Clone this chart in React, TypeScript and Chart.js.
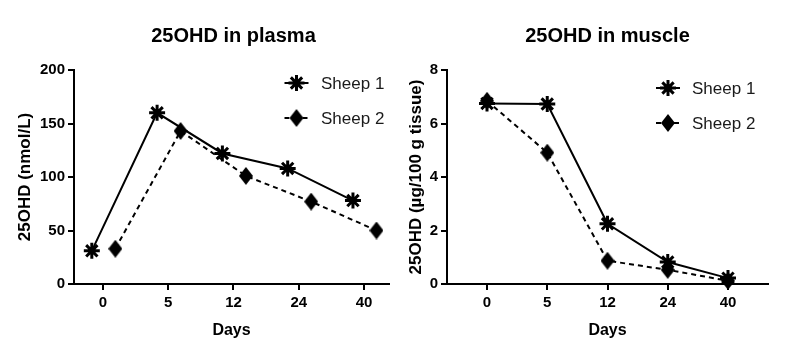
import React, { useEffect, useRef } from 'react';
import { Chart, registerables } from 'chart.js';

Chart.register(...registerables);

// ---------- data ----------
const days = ['0', '5', '12', '24', '40'];
const seriesNames = ['Sheep 1', 'Sheep 2'];

const plasmaSheep1 = [31, 160, 122, 108, 78];
const plasmaSheep2 = [33, 143, 101, 77, 50];
const plasmaYTicks = [0, 50, 100, 150, 200];

const muscleSheep1 = [6.75, 6.73, 2.25, 0.82, 0.22];
const muscleSheep2 = [6.85, 4.91, 0.87, 0.53, 0.12];
const muscleYTicks = [0, 2, 4, 6, 8];

// horizontal dodge of each series (in category units)
const plasmaDodge = [-0.17, 0.19];
const muscleDodge = [0, 0];

const FONT = "'Liberation Sans', Arial, sans-serif";

function makeDiamond(): HTMLCanvasElement {
  const c = document.createElement('canvas');
  c.width = 14;
  c.height = 18;
  const g = c.getContext('2d')!;
  g.fillStyle = '#000';
  g.beginPath();
  g.moveTo(7, 0);
  g.lineTo(14, 9);
  g.lineTo(7, 18);
  g.lineTo(0, 9);
  g.closePath();
  g.fill();
  return c;
}

function drawStar(ctx: CanvasRenderingContext2D, x: number, y: number, r: number) {
  ctx.save();
  ctx.strokeStyle = '#000';
  ctx.lineWidth = 3;
  ctx.setLineDash([]);
  ctx.beginPath();
  for (let k = 0; k < 4; k++) {
    const a = (k * Math.PI) / 4;
    ctx.moveTo(x - Math.cos(a) * r, y - Math.sin(a) * r);
    ctx.lineTo(x + Math.cos(a) * r, y + Math.sin(a) * r);
  }
  ctx.stroke();
  ctx.restore();
}

type PanelCfg = {
  left: number;
  width: number;
  title: string;
  titleX: number;
  yTitle: string;
  yTitlePad: number;
  s1: number[];
  s2: number[];
  dodge: number[];
  yTicks: number[];
  xMin: number;
  xMax: number;
  yAxisWidth: number;
  rightPad: number;
  legendX: number;
  legendY: number[];
  legendTextX: number;
};

function Panel({ cfg }: { cfg: PanelCfg }) {
  const ref = useRef<HTMLCanvasElement>(null);
  useEffect(() => {
    const diamond = makeDiamond();
    const overlay = {
      id: 'overlay',
      afterDraw(chart: any) {
        const ctx: CanvasRenderingContext2D = chart.ctx;
        ctx.save();
        // title
        ctx.fillStyle = '#000';
        ctx.font = `bold 20px ${FONT}`;
        ctx.textAlign = 'center';
        ctx.textBaseline = 'alphabetic';
        ctx.fillText(cfg.title, cfg.titleX, 41.5);
        // legend
        const lx = cfg.legendX;
        for (let i = 0; i < 2; i++) {
          const ly = cfg.legendY[i];
          ctx.strokeStyle = '#000';
          ctx.lineWidth = 2;
          ctx.setLineDash(i === 0 ? [] : [5, 4]);
          ctx.beginPath();
          ctx.moveTo(lx - 12, ly);
          ctx.lineTo(lx + 12, ly);
          ctx.stroke();
          ctx.setLineDash([]);
          if (i === 0) drawStar(ctx, lx, ly, 8);
          else ctx.drawImage(diamond, lx - 7, ly - 9);
          ctx.fillStyle = '#1a1a1a';
          ctx.font = `17px ${FONT}`;
          ctx.textAlign = 'left';
          ctx.textBaseline = 'middle';
          ctx.fillText(seriesNames[i], cfg.legendTextX, ly + 1);
        }
        ctx.restore();
      },
    };

    const chart = new Chart(ref.current!, {
      type: 'line',
      data: {
        datasets: [
          {
            label: seriesNames[0],
            data: cfg.s1.map((y, i) => ({ x: i + cfg.dodge[0], y })),
            borderColor: '#000',
            backgroundColor: '#000',
            borderWidth: 2,
            pointStyle: 'star',
            pointRadius: 8,
            pointBorderWidth: 3,
            pointBorderColor: '#000',
            clip: false as any,
          },
          {
            label: seriesNames[1],
            data: cfg.s2.map((y, i) => ({ x: i + cfg.dodge[1], y })),
            borderColor: '#000',
            backgroundColor: '#000',
            borderWidth: 2,
            borderDash: [5, 4],
            pointStyle: diamond as any,
            pointRadius: 8,
            clip: false as any,
          },
        ],
      },
      options: {
        responsive: false,
        animation: false,
        devicePixelRatio: 1,
        layout: { padding: { top: 70, right: cfg.rightPad, bottom: 0, left: 0 } },
        plugins: {
          legend: { display: false },
          title: { display: false },
          tooltip: { enabled: false },
        },
        scales: {
          x: {
            type: 'linear',
            min: cfg.xMin,
            max: cfg.xMax,
            afterBuildTicks: (s: any) => {
              s.ticks = days.map((_, i) => ({ value: i }));
            },
            afterFit: (s: any) => {
              s.height = 70;
            },
            ticks: {
              autoSkip: false,
              maxRotation: 0,
              padding: 4,
              color: '#000',
              font: { family: FONT, size: 15, weight: 'bold' },
              callback: (v: any) => days[Math.round(Number(v))] ?? '',
            },
            grid: {
              drawOnChartArea: false,
              drawTicks: true,
              tickLength: 6,
              color: '#000',
              lineWidth: 2,
            },
            border: { display: true, color: '#000', width: 2 },
            title: {
              display: true,
              text: 'Days',
              color: '#000',
              font: { family: FONT, size: 16, weight: 'bold' },
              padding: { top: 0, bottom: 14 },
            },
          },
          y: {
            type: 'linear',
            min: cfg.yTicks[0],
            max: cfg.yTicks[cfg.yTicks.length - 1],
            afterBuildTicks: (s: any) => {
              s.ticks = cfg.yTicks.map((v) => ({ value: v }));
            },
            afterFit: (s: any) => {
              s.width = cfg.yAxisWidth;
            },
            ticks: {
              padding: 3,
              color: '#000',
              font: { family: FONT, size: 15, weight: 'bold' },
            },
            grid: {
              drawOnChartArea: false,
              drawTicks: true,
              tickLength: 6,
              color: '#000',
              lineWidth: 2,
            },
            border: { display: true, color: '#000', width: 2 },
            title: {
              display: true,
              text: cfg.yTitle,
              color: '#000',
              font: { family: FONT, size: 17, weight: 'bold' },
              padding: { top: cfg.yTitlePad, bottom: 0 },
            },
          },
        },
      } as any,
      plugins: [overlay],
    });
    return () => chart.destroy();
  }, []);
  return (
    <div style={{ position: 'absolute', left: cfg.left, top: 0, width: cfg.width, height: 354 }}>
      <canvas ref={ref} width={cfg.width} height={354} style={{ width: cfg.width, height: 354, display: 'block' }} />
    </div>
  );
}

const plasmaCfg: PanelCfg = {
  left: 0,
  width: 400,
  title: '25OHD in plasma',
  titleX: 233.5,
  yTitle: '25OHD (nmol/L)',
  yTitlePad: 15.5,
  s1: plasmaSheep1,
  s2: plasmaSheep2,
  dodge: plasmaDodge,
  yTicks: plasmaYTicks,
  xMin: -0.443,
  xMax: 4.382,
  yAxisWidth: 74,
  rightPad: 10,
  legendX: 296.5,
  legendY: [83, 118],
  legendTextX: 321,
};

const muscleCfg: PanelCfg = {
  left: 400,
  width: 408,
  title: '25OHD in muscle',
  titleX: 207.5,
  yTitle: '25OHD (µg/100 g tissue)',
  yTitlePad: 6.5,
  s1: muscleSheep1,
  s2: muscleSheep2,
  dodge: muscleDodge,
  yTicks: muscleYTicks,
  xMin: -0.664,
  xMax: 4.664,
  yAxisWidth: 47,
  rightPad: 40,
  legendX: 268,
  legendY: [88, 123],
  legendTextX: 292,
};

export default function App() {
  return (
    <div style={{ position: 'absolute', left: 0, top: 0, width: 808, height: 354, background: '#fff' }}>
      <Panel cfg={plasmaCfg} />
      <Panel cfg={muscleCfg} />
    </div>
  );
}
